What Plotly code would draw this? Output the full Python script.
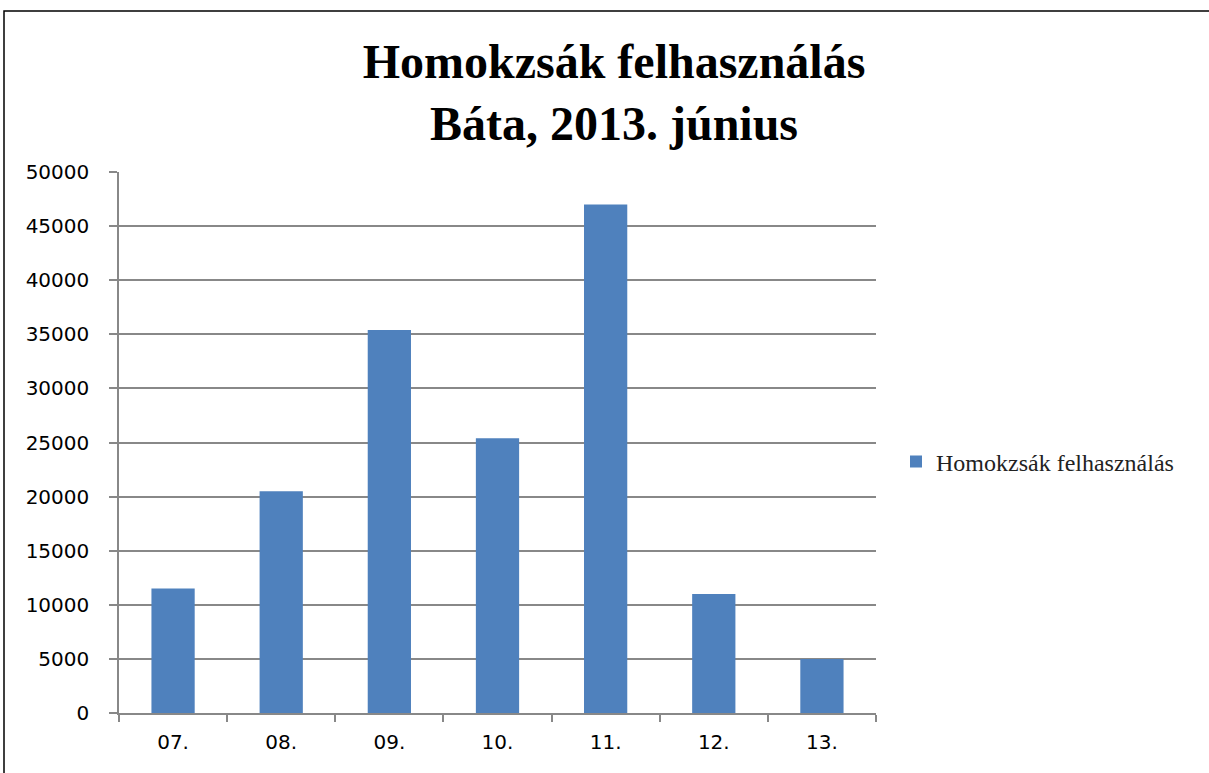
import plotly.graph_objects as go

categories = ["07.", "08.", "09.", "10.", "11.", "12.", "13."]
values = [11500, 20500, 35400, 25400, 47000, 11000, 5000]
series_name = "Homokzsák felhasználás"
title_text = "Homokzsák felhasználás<br>Báta, 2013. június"
y_ticks = [0, 5000, 10000, 15000, 20000, 25000, 30000, 35000, 40000, 45000, 50000]
y_tick_labels = [str(v) for v in y_ticks]

W, H = 1209, 773
L, R, T, B = 119, 876, 172, 713
PW, PH = R - L, B - T

fig = go.Figure()
fig.add_trace(go.Bar(x=categories, y=values, name=series_name,
                     marker=dict(color="#4F81BD", line=dict(width=0)),
                     showlegend=True))

fig.update_layout(
    width=W, height=H,
    margin=dict(l=L, r=W - R, t=T, b=H - B, pad=0),
    paper_bgcolor="white", plot_bgcolor="white",
    bargap=0.6,
    title=dict(text=title_text, x=614 / W, xref="container", xanchor="center",
               y=1 - 78 / H, yref="container", yanchor="middle",
               font=dict(family="Liberation Serif", size=48, color="black", weight="bold")),
    showlegend=True,
    legend=dict(x=(896 - L) / PW, xanchor="left", y=(B - 462) / PH, yanchor="middle",
                font=dict(family="Liberation Serif", size=24, color="#222"),
                bgcolor="rgba(0,0,0,0)"),
    xaxis=dict(type="category", tickson="boundaries", ticks="outside", ticklen=7,
               tickcolor="#888", tickwidth=1.5, showline=True, linecolor="#888", linewidth=1.5,
               showgrid=False, ticklabelstandoff=10,
               tickfont=dict(family="DejaVu Sans", size=20, color="black")),
    yaxis=dict(range=[0, 50000], tickvals=y_ticks, ticktext=y_tick_labels,
               ticks="outside", ticklen=8, ticklabelstandoff=16,
               tickcolor="#888", tickwidth=1.5, showline=True, linecolor="#888", linewidth=1.5,
               showgrid=True, gridcolor="#888", gridwidth=1.5, zeroline=False,
               tickfont=dict(family="DejaVu Sans", size=20, color="black")),
    shapes=[dict(type="rect", xref="paper", yref="paper",
                 x0=(4 - L) / PW, x1=(1215 - L) / PW,
                 y0=(B - 780) / PH, y1=(B - 11) / PH,
                 line=dict(color="black", width=1.5), fillcolor="rgba(0,0,0,0)", layer="below")],
)

fig.write_html("out.html", config={"displayModeBar": False},
               post_script="document.body.style.margin='0';")
